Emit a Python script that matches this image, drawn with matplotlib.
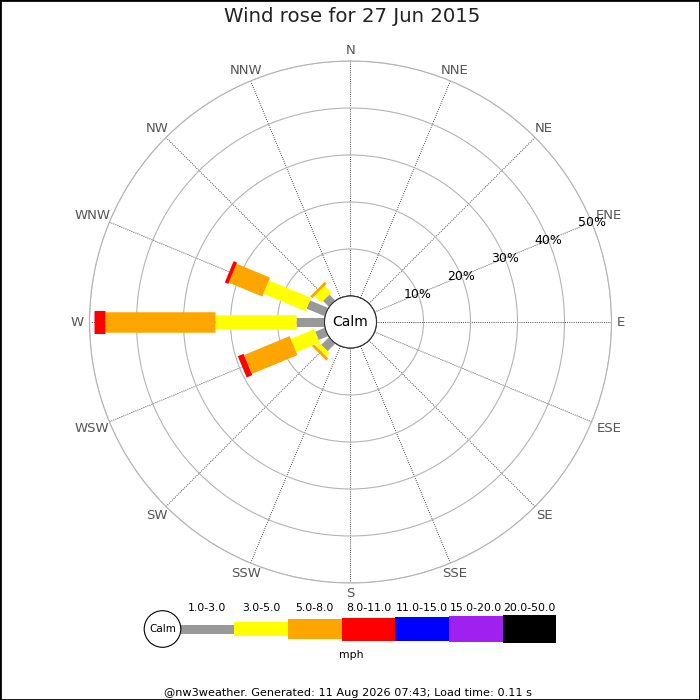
import numpy as np
import matplotlib
matplotlib.use('Agg')
import matplotlib.pyplot as plt
from matplotlib.patches import Circle, Rectangle

# ---------------- data ----------------
directions = ['N', 'NNE', 'NE', 'ENE', 'E', 'ESE', 'SE', 'SSE',
              'S', 'SSW', 'SW', 'WSW', 'W', 'WNW', 'NW', 'NNW']
speed_bins = ['1.0-3.0', '3.0-5.0', '5.0-8.0', '8.0-11.0',
              '11.0-15.0', '15.0-20.0', '20.0-50.0']
# percentage of time per direction, per speed bin (stacked increments)
freq_SW = [2.3, 1.0, 0.6, 0, 0, 0, 0]
freq_WSW = [2.2, 5.4, 10.5, 1.3, 0, 0, 0]
freq_W = [6.0, 17.2, 23.4, 2.5, 0, 0, 0]
freq_WNW = [4.2, 9.7, 7.7, 0.8, 0, 0, 0]
freq_NW = [1.8, 2.0, 0.6, 0, 0, 0, 0]
ring_values = [10, 20, 30, 40, 50]
title = 'Wind rose for 27 Jun 2015'
unit = 'mph'
footer = '@nw3weather. Generated: 11 Aug 2026 07:43; Load time: 0.11 s'

freq = {'SW': freq_SW, 'WSW': freq_WSW, 'W': freq_W,
        'WNW': freq_WNW, 'NW': freq_NW}

# ---------------- style ----------------
bin_colors = ['#999999', '#ffff00', '#ffa500', '#ff0000',
              '#0000ff', '#a020f0', '#000000']
bin_width_px = [9, 14.5, 20.5, 23, 24.5, 26.5, 28.5]
PX2PT = 72 / 100.0

W_PX = 700
cx, cy = 350.5, 322.0
R_OUT = 261.0
R_CALM = 26.0
rmax = 50.0
rorigin = -rmax * R_CALM / (R_OUT - R_CALM)


def px_to_r(px):
    return (px - R_CALM) / (R_OUT - R_CALM) * rmax


fig = plt.figure(figsize=(7, 7), dpi=100)
fig.patch.set_facecolor('white')

ax = fig.add_axes([(cx - R_OUT) / W_PX, (W_PX - cy - R_OUT) / W_PX,
                   2 * R_OUT / W_PX, 2 * R_OUT / W_PX], projection='polar')
ax.set_theta_zero_location('N')
ax.set_theta_direction(-1)
ax.set_ylim(0, rmax)
ax.set_rorigin(rorigin)
ax.set_thetagrids(np.arange(0, 360, 22.5), labels=[''] * 16)
ax.set_rgrids(ring_values, labels=[''] * len(ring_values))
ax.xaxis.grid(True, color='#333333', linestyle=(0, (1, 1.4)), linewidth=0.65)
ax.yaxis.grid(True, color='#b4b4b4', linestyle='-', linewidth=0.8)
for name, sp in ax.spines.items():
    if name == 'polar':
        sp.set_color('#b4b4b4')
        sp.set_linewidth(0.8)
    else:
        sp.set_visible(False)
ax.tick_params(axis='both', length=0)

# bars
for d, vals in freq.items():
    th = np.deg2rad(directions.index(d) * 22.5)
    cum = 0.0
    for i, v in enumerate(vals):
        if v <= 0:
            continue
        ax.plot([th, th], [cum, cum + v], color=bin_colors[i],
                linewidth=bin_width_px[i] * PX2PT, solid_capstyle='butt',
                zorder=3)
        cum += v

# calm circle
ax.add_patch(Circle((0.5, 0.5), R_CALM / (2 * R_OUT), transform=ax.transAxes,
                    facecolor='white', edgecolor='#333333', linewidth=0.8,
                    zorder=6, clip_on=False))
ax.text(0.5, 0.5, 'Calm', transform=ax.transAxes, ha='center', va='center',
        fontsize=10, color='black', zorder=7)

# direction labels: anchored just outside the outer ring, box pushed outward
R_ANCHOR = 266.5
dir_texts = []
for i, d in enumerate(directions):
    t = ax.text(np.deg2rad(i * 22.5), px_to_r(R_ANCHOR), d, ha='center',
                va='center', fontsize=9.5, color='#555555', zorder=4)
    dir_texts.append(t)
fig.canvas.draw()
renderer = fig.canvas.get_renderer()
for i, t in enumerate(dir_texts):
    bb = t.get_window_extent(renderer)
    hw, hh = bb.width / 2.0, bb.height / 2.0 - 1.5
    ang = np.deg2rad(i * 22.5)
    c, s = abs(np.sin(ang)), abs(np.cos(ang))
    cand = []
    if c > 1e-6:
        cand.append(hw / c)
    if s > 1e-6:
        cand.append(hh / s)
    extra = min(cand)
    t.set_position((ang, px_to_r(R_ANCHOR + extra)))

# ring labels
for v in ring_values:
    ax.text(np.deg2rad(67.5), v, f'{v}%', ha='center', va='center',
            fontsize=9, color='black', zorder=8)

# title
fig.text(352 / W_PX, 1 - 17 / W_PX, title, ha='center', va='center',
         fontsize=14.2, color='#222222')

# ---------------- legend ----------------
lg = fig.add_axes([0, 0, 1, 1], facecolor='none')
lg.set_xlim(0, W_PX)
lg.set_ylim(W_PX, 0)
lg.axis('off')
seg_len = 53.7
seg_x0 = 180.5
leg_y = 629
for i, lab in enumerate(speed_bins):
    left = seg_x0 + i * seg_len
    lg.barh(leg_y, seg_len, left=left, height=bin_width_px[i],
            color=bin_colors[i], linewidth=0)
    lg.text(left + seg_len / 2, 608, lab, ha='center', va='center',
            fontsize=7.8, color='black')
lg.add_patch(Circle((162.5, leg_y), 18.3, facecolor='white',
                    edgecolor='black', linewidth=0.8, zorder=5))
lg.text(162.5, leg_y, 'Calm', ha='center', va='center', fontsize=7.5,
        zorder=6)
lg.text(351, 654.5, unit, ha='center', va='center', fontsize=7.8)

fig.text(348 / W_PX, 1 - 692.5 / W_PX, footer, ha='center', va='center',
         fontsize=8.15, color='black')

fig.patches.append(Rectangle((0, 0), 1, 1, transform=fig.transFigure,
                             fill=False, edgecolor='black', linewidth=2))

fig.savefig('out.png', dpi=100, facecolor='white')
